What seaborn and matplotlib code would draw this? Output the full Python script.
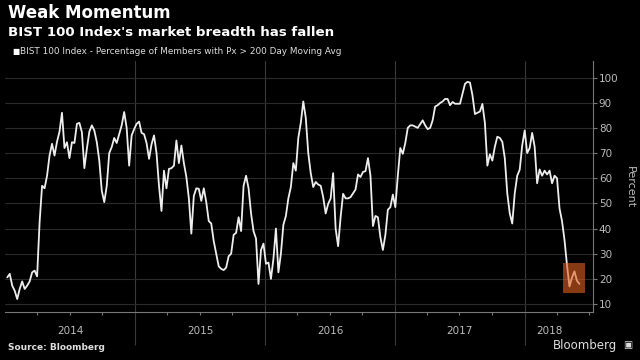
import matplotlib
matplotlib.use("Agg")
import matplotlib.pyplot as plt
import matplotlib.dates as mdates
from matplotlib.patches import Rectangle
import matplotlib.transforms as mtransforms
import seaborn as sns
import pandas as pd

# === Data: weekly readings, % of BIST 100 members above 200-day MA ===
start_date = "2014-01-06"
pct_above_200d = [
    20.6, 22, 17.3, 15.3, 12, 16, 19, 16, 17.3, 19,
    22.6, 23.3, 21, 42.5, 57, 56, 61, 69, 73.7, 69,
    74.5, 78.5, 86, 72, 74.3, 68, 74.3, 74, 81.6, 82,
    78.3, 64, 71.7, 78.5, 81, 79, 74.3, 67, 55, 50.5,
    57, 70, 72.4, 76, 74, 77.5, 81, 86.3, 80, 65,
    77, 79.5, 81.6, 82.5, 78, 77.5, 74, 67.7, 73.5, 77,
    70, 57, 47, 63, 56, 63.7, 64, 65, 75, 66,
    73, 66, 60.5, 52, 38, 53, 56, 55.8, 51, 56,
    50.5, 43, 42, 35, 30, 25, 24, 23.5, 24.5, 29,
    30, 37.5, 38.3, 44.5, 39, 57, 61, 56, 46, 39,
    36, 18, 31.5, 34, 26, 26.5, 20, 28, 40, 22.6,
    30, 41.5, 45, 52, 56.5, 66, 63, 76, 82, 90.5,
    84, 70, 62, 56.5, 58.5, 57.5, 57, 52.5, 46, 49.8,
    52, 62, 40, 33, 44.5, 53.8, 52, 52, 52.5, 54,
    55.5, 61.5, 60.5, 62.5, 62.8, 68, 61, 41, 45, 44.5,
    36.5, 31.5, 37.5, 47.5, 48.5, 53.5, 48.5, 61, 72, 69.7,
    74, 80, 81, 81, 80.5, 80, 81.5, 83, 81, 79.5,
    80, 83, 88.5, 89, 89.9, 90.5, 91.5, 91.5, 89, 90.3,
    89.6, 89.6, 89.6, 93.5, 97.5, 98.3, 98, 93, 85.5, 86,
    86.5, 89.5, 82, 65, 69.5, 67, 72.5, 76.5, 76, 74.5,
    68, 54, 46, 42, 54, 61, 63.4, 73, 79, 70,
    72, 78, 72.5, 58, 63.5, 61, 63, 61.5, 63, 58,
    61, 60, 48, 43, 35.5, 25.5, 17, 20.5, 23, 19.3,
    18,
]
years = [2014, 2015, 2016, 2017, 2018]
y_ticks = [10, 20, 30, 40, 50, 60, 70, 80, 90, 100]

# highlighted recent stretch
box_start, box_end = "2018-04-20", "2018-06-21"
box_low, box_high = 14.5, 26.3

df = pd.DataFrame({
    "date": pd.date_range(start_date, periods=len(pct_above_200d), freq="7D"),
    "pct": pct_above_200d,
})

# === Style ===
sns.set_theme(style="dark", rc={
    "figure.facecolor": "black",
    "axes.facecolor": "black",
    "axes.edgecolor": "#777777",
    "grid.color": "#2a2a2a",
})
plt.rcParams["font.family"] = ["DejaVu Sans"]

fig = plt.figure(figsize=(6.4, 3.6), dpi=100)
ax = fig.add_axes([0.008, 0.133, 0.919, 0.697])

sns.lineplot(data=df, x="date", y="pct", ax=ax, color="#eeeeee", linewidth=1.3)

ax.add_patch(Rectangle(
    (mdates.datestr2num(box_start), box_low),
    mdates.datestr2num(box_end) - mdates.datestr2num(box_start),
    box_high - box_low, facecolor="#e0601f", alpha=0.6, edgecolor="none", zorder=5))

ax.set_xlim(pd.Timestamp("2013-12-31"), pd.Timestamp("2018-07-13"))
ax.set_ylim(6.8, 106.5)

# horizontal grid only at the ticks, year separators drawn as vlines
ax.yaxis.grid(True, color="#2a2a2a", linewidth=0.8)
ax.xaxis.grid(False)
for yr in years[1:]:
    ax.axvline(pd.Timestamp(f"{yr}-01-01"), color="#3a3a3a", linewidth=0.8, zorder=0)

# spines
for side in ["top", "left"]:
    ax.spines[side].set_visible(False)
ax.spines["bottom"].set_color("#777777")
ax.spines["right"].set_color("#777777")
ax.spines["bottom"].set_linewidth(0.8)
ax.spines["right"].set_linewidth(0.8)

# y axis on the right
ax.yaxis.tick_right()
ax.set_yticks(y_ticks)
ax.set_yticklabels([str(t) for t in y_ticks])
ax.tick_params(axis="y", colors="#777777", labelcolor="#bbbbbb", labelsize=7.5,
               length=3, width=0.8, pad=1, right=True, left=False)
ax.yaxis.set_label_position("right")
ax.set_ylabel("Percent", color="#bbbbbb", fontsize=8, rotation=270, labelpad=12)

# x axis: long year separators + tiny quarter ticks, labels centred per year
ax.set_xlabel("")
ax.set_xticks([pd.Timestamp(f"{yr}-01-01") for yr in years[1:]])
ax.set_xticklabels([])
ax.xaxis.set_minor_locator(mdates.MonthLocator(bymonth=[4, 7, 10]))
ax.tick_params(axis="x", which="major", direction="out", length=24, width=0.8,
               color="#3a3a3a", bottom=True)
ax.tick_params(axis="x", which="minor", direction="out", length=2, width=0.8,
               color="#777777", bottom=True)

trans = mtransforms.blended_transform_factory(ax.transData, ax.transAxes)
x_lo, x_hi = ax.get_xlim()
last_num = mdates.date2num(df["date"].iloc[-1])
for yr in years:
    a = max(mdates.datestr2num(f"{yr}-01-01"), x_lo)
    b = min(mdates.datestr2num(f"{yr + 1}-01-01"), last_num)
    ax.text((a + b) / 2 - (8 if yr == 2018 else 0), -0.055, str(yr), transform=trans,
            ha="center", va="top", color="#bbbbbb", fontsize=7.5)

# === Titles and footer ===
fig.text(0.012, 0.99, "Weak Momentum", color="white", fontsize=12,
         fontweight="bold", va="top", ha="left")
fig.text(0.012, 0.928, "BIST 100 Index's market breadth has fallen", color="white",
         fontsize=9.6, fontweight="bold", va="top", ha="left")
fig.text(0.02, 0.857, "\u25a0", color="white", fontsize=5.5, va="center", ha="left")
fig.text(0.032, 0.857, "BIST 100 Index - Percentage of Members with Px > 200 Day Moving Avg",
         color="#dddddd", fontsize=6.4, va="center", ha="left")
fig.text(0.012, 0.022, "Source: Bloomberg", color="#dddddd", fontsize=6.5,
         fontweight="bold", va="bottom", ha="left")
fig.text(0.965, 0.022, "Bloomberg", color="#dddddd", fontsize=8.5, va="bottom", ha="right")
fig.text(0.988, 0.027, "\u25a3", color="#dddddd", fontsize=7, va="bottom", ha="right")

fig.savefig("out.png", dpi=100, facecolor="black")
